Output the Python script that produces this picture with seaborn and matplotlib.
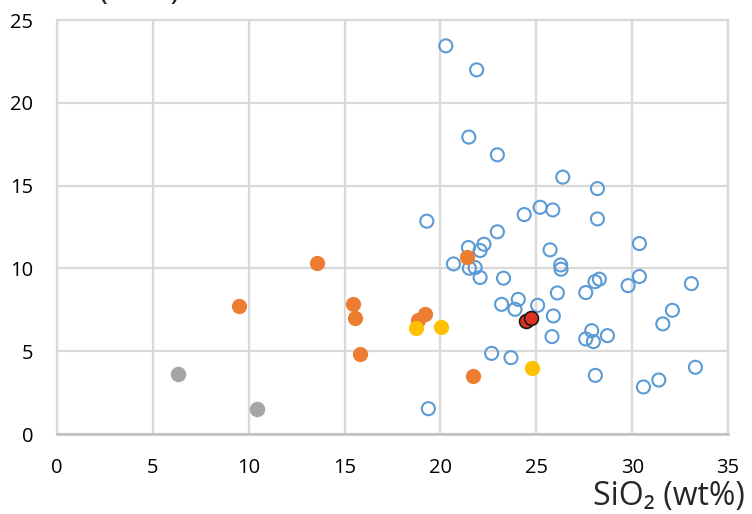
import matplotlib
matplotlib.use("Agg")
import matplotlib.pyplot as plt
import seaborn as sns

# SiO2 / CaO compositions (wt%) for each sample group
blue_sio2 = [20.28, 21.89, 21.48, 22.97, 26.38, 28.19, 19.29, 24.37, 25.20, 25.86,
             28.19, 22.97, 30.38, 21.46, 22.27, 22.07, 25.72, 20.68, 21.51, 21.81,
             26.27, 26.29, 22.07, 23.29, 30.38, 28.29, 28.06, 29.79, 33.09, 26.10,
             27.58, 23.19, 24.06, 23.89, 25.07, 25.89, 32.10, 31.60, 27.89, 25.82,
             27.58, 27.98, 28.71, 22.67, 23.68, 33.30, 28.08, 31.39, 30.59, 19.37]
blue_cao = [23.44, 21.99, 17.93, 16.86, 15.51, 14.82, 12.85, 13.25, 13.69, 13.53,
            12.99, 12.21, 11.50, 11.26, 11.46, 11.08, 11.12, 10.27, 10.01, 10.05,
            10.21, 9.95, 9.45, 9.41, 9.51, 9.35, 9.20, 8.96, 9.08, 8.52,
            8.54, 7.83, 8.13, 7.53, 7.77, 7.13, 7.47, 6.65, 6.24, 5.88,
            5.74, 5.58, 5.94, 4.87, 4.61, 4.03, 3.54, 3.26, 2.84, 1.53]

orange_sio2 = [13.58, 9.51, 15.42, 15.53, 15.81, 18.81, 19.20, 21.37, 21.72]
orange_cao = [10.31, 7.75, 7.87, 7.01, 4.83, 6.89, 7.25, 10.67, 3.50]

yellow_sio2 = [18.71, 20.05, 24.76]
yellow_cao = [6.38, 6.45, 3.97]

gray_sio2 = [6.30, 10.42]
gray_cao = [3.63, 1.49]

red_sio2 = [24.47, 24.71]
red_cao = [6.85, 6.99]

x_ticks = [0, 5, 10, 15, 20, 25, 30, 35]
y_ticks = [0, 5, 10, 15, 20, 25]

sns.set_style("white")
plt.rcParams["font.family"] = ["Open Sans", "DejaVu Sans"]

fig = plt.figure(figsize=(7.52, 5.14), dpi=100)
ax = fig.add_axes([57 / 752, 1 - 434 / 514, (728 - 57) / 752, (434 - 20) / 514])

grid_col = "#D9D9D9"

sns.scatterplot(x=blue_sio2, y=blue_cao, ax=ax, s=88, facecolor="none",
                edgecolor="#5B9BD5", linewidth=1.5, zorder=3)
sns.scatterplot(x=gray_sio2, y=gray_cao, ax=ax, s=125, color="#A5A5A5",
                linewidth=0, zorder=4)
sns.scatterplot(x=orange_sio2, y=orange_cao, ax=ax, s=120, color="#ED7D31",
                linewidth=0, zorder=5)
sns.scatterplot(x=yellow_sio2, y=yellow_cao, ax=ax, s=120, color="#FFC000",
                linewidth=0, zorder=6)
sns.scatterplot(x=red_sio2, y=red_cao, ax=ax, s=100, color="#E0301E",
                edgecolor="#1a1a1a", linewidth=1.2, zorder=7)

ax.set_xlim(0, 35)
ax.set_ylim(0, 25)
ax.set_xticks(x_ticks)
ax.set_yticks(y_ticks)
ax.set_xticklabels([str(v) for v in x_ticks])
ax.set_yticklabels([str(v) for v in y_ticks])
ax.tick_params(axis="both", length=0, labelsize=14.5, colors="#000000")
ax.tick_params(axis="x", pad=17)
ax.tick_params(axis="y", pad=17)

ax.grid(True, color=grid_col, linewidth=1.6, zorder=0)
ax.set_axisbelow(True)
for side in ["left", "right", "top"]:
    ax.spines[side].set_color(grid_col)
    ax.spines[side].set_linewidth(1.6)
ax.spines["bottom"].set_color("#BFBFBF")
ax.spines["bottom"].set_linewidth(1.8)

ax.set_xlabel("")
ax.set_ylabel("")

fig.text(745 / 752, 1 - 505 / 514, "SiO\u2082 (wt%)", ha="right", va="baseline",
         fontsize=23, family=["Open Sans", "DejaVu Sans"])
fig.text(180 / 752, 1 + 0.5 / 514, "CaO (wt%)", ha="right", va="baseline",
         fontsize=23, family=["Open Sans", "DejaVu Sans"])

fig.savefig("out.png", dpi=100)
